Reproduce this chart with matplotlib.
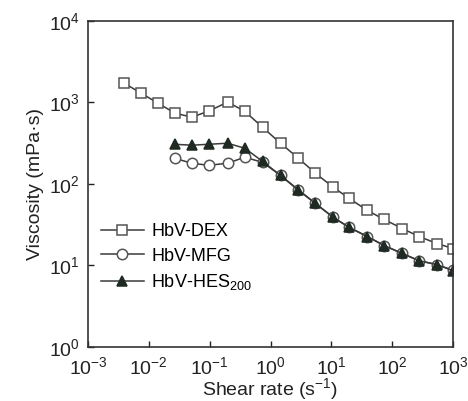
import numpy as np
import matplotlib
matplotlib.use("Agg")
import matplotlib.pyplot as plt
from matplotlib.ticker import LogLocator, NullLocator

plt.rcParams["font.family"] = ["Liberation Sans", "DejaVu Sans"]
plt.rcParams["mathtext.default"] = "regular"

# shear rate (1/s)
shear = [0.0039, 0.0074, 0.0141, 0.0267, 0.0507, 0.0964, 0.197, 0.375, 0.74, 1.46,
         2.88, 5.47, 10.8, 19.7, 38.9, 73.9, 146, 277, 547, 1000]

dex = [1726, 1300, 979, 738, 658, 780, 1007, 780, 495, 315,
       206, 135, 90.5, 66.3, 47.2, 36.6, 28.3, 22.6, 18.5, 16.1]
# MFG and HES200 start at the 4th shear rate
mfg = [206, 179, 169, 179, 212, 184, 127, 84.5, 57.5, 38.7,
       29.2, 22.6, 17.5, 14.0, 11.4, 10.2, 8.7]
hes = [306, 298, 306, 315, 274, 189, 127, 83.2, 57.5, 38.7,
       29.2, 22.6, 17.5, 14.0, 11.4, 10.2, 8.6]

labels = ["HbV-DEX", "HbV-MFG", "HbV-HES$_{200}$"]


def main():
    fig = plt.figure(figsize=(4.68, 4.01), dpi=100)
    ax = fig.add_axes([0.188, 0.135, 0.78, 0.813])

    x = np.array(shear)
    line_kw = dict(color="#3a3a3a", linewidth=1.1, markeredgewidth=1.1)
    ax.plot(x, dex, marker="s", markersize=7.5, markerfacecolor="white",
            markeredgecolor="#555555", label=labels[0], **line_kw)
    ax.plot(x[3:], mfg, marker="o", markersize=7.5, markerfacecolor="white",
            markeredgecolor="#555555", label=labels[1], **line_kw)
    ax.plot(x[3:], hes, marker="^", markersize=7.5, markerfacecolor="#1e2a22",
            markeredgecolor="#1e2a22", label=labels[2], **line_kw)

    ax.set_xscale("log")
    ax.set_yscale("log")
    ax.set_xlim(1e-3, 1e3)
    ax.set_ylim(1, 1e4)
    ax.xaxis.set_major_locator(LogLocator(base=10, numticks=10))
    ax.yaxis.set_major_locator(LogLocator(base=10, numticks=10))
    ax.xaxis.set_minor_locator(NullLocator())
    ax.yaxis.set_minor_locator(NullLocator())
    ax.tick_params(direction="in", length=4, width=1, labelsize=14,
                   colors="#222222")
    ax.tick_params(axis="x", pad=6.5)
    ax.tick_params(axis="y", pad=6)
    for sp in ax.spines.values():
        sp.set_linewidth(1.2)
        sp.set_color("#333333")

    ax.set_xlabel("Shear rate (s$^{-1}$)", fontsize=14, color="#222222", labelpad=-1)
    ax.set_ylabel("Viscosity (mPa\u00b7s)", fontsize=14, color="#222222", labelpad=3)

    ax.legend(loc="lower left", bbox_to_anchor=(0.0, 0.13), frameon=False,
              fontsize=13, handlelength=2.4, handletextpad=0.4,
              labelspacing=0.4, borderaxespad=0.3)

    fig.savefig("out.png", dpi=100)
    plt.close(fig)


if __name__ == "__main__":
    main()
